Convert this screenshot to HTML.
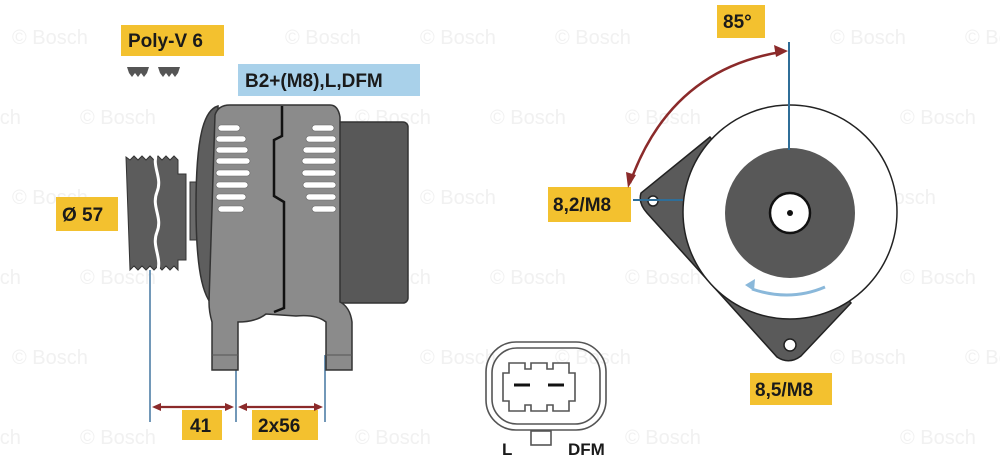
<!DOCTYPE html>
<html><head><meta charset="utf-8"><style>
html,body{margin:0;padding:0;background:#fff;}
svg{display:block;}
.wm{font-family:"Liberation Sans",sans-serif;font-size:20px;fill:#f1f1f1;}
.lb{font-family:"Liberation Sans",sans-serif;font-weight:bold;font-size:19px;fill:#1a1a1a;}
</style></head><body>
<svg width="1000" height="457" viewBox="0 0 1000 457" xmlns="http://www.w3.org/2000/svg">
<g class="wm">
<text x="12" y="44">© Bosch</text><text x="285" y="44">© Bosch</text><text x="420" y="44">© Bosch</text><text x="555" y="44">© Bosch</text><text x="830" y="44">© Bosch</text><text x="965" y="44">© Bosch</text>
<text x="-55" y="124">© Bosch</text><text x="80" y="124">© Bosch</text><text x="355" y="124">© Bosch</text><text x="490" y="124">© Bosch</text><text x="625" y="124">© Bosch</text><text x="900" y="124">© Bosch</text>
<text x="12" y="204">© Bosch</text><text x="420" y="204">© Bosch</text><text x="860" y="204">© Bosch</text>
<text x="-55" y="284">© Bosch</text><text x="80" y="284">© Bosch</text><text x="355" y="284">© Bosch</text><text x="490" y="284">© Bosch</text><text x="625" y="284">© Bosch</text><text x="900" y="284">© Bosch</text>
<text x="12" y="364">© Bosch</text><text x="420" y="364">© Bosch</text><text x="555" y="364">© Bosch</text><text x="830" y="364">© Bosch</text><text x="965" y="364">© Bosch</text>
<text x="-55" y="444">© Bosch</text><text x="80" y="444">© Bosch</text><text x="355" y="444">© Bosch</text><text x="625" y="444">© Bosch</text><text x="900" y="444">© Bosch</text>
</g>

<!-- labels -->
<rect x="121" y="25" width="103" height="31" fill="#f3c12f"/><text class="lb" x="128" y="47">Poly-V 6</text>
<rect x="238" y="64" width="182" height="32" fill="#a9d1ea"/><text class="lb" x="245" y="87">B2+(M8),L,DFM</text>
<rect x="56" y="197" width="62" height="34" fill="#f3c12f"/><text class="lb" x="62" y="221">Ø 57</text>
<rect x="182" y="410" width="40" height="30" fill="#f3c12f"/><text class="lb" x="190" y="432">41</text>
<rect x="252" y="410" width="66" height="30" fill="#f3c12f"/><text class="lb" x="258" y="432">2x56</text>
<rect x="717" y="5" width="48" height="33" fill="#f3c12f"/><text class="lb" x="723" y="28">85°</text>
<rect x="548" y="187" width="83" height="35" fill="#f3c12f"/><text class="lb" x="553" y="211">8,2/M8</text>
<rect x="750" y="373" width="82" height="32" fill="#f3c12f"/><text class="lb" x="755" y="396">8,5/M8</text>

<!-- belt symbol -->
<path d="M127 67h22l-2 6-3 4-3-4-3 4-3-4-3 4-3-4z" fill="#555"/>
<path d="M158 67h22l-2 6-3 4-3-4-3 4-3-4-3 4-3-4z" fill="#555"/>

<!-- dimension lines -->
<g stroke="#4f7fa6" stroke-width="1.6">
<line x1="150" y1="270" x2="150" y2="422"/><line x1="236" y1="355" x2="236" y2="422"/><line x1="325" y1="355" x2="325" y2="422"/>
</g>
<g stroke="#8b2a2a" stroke-width="2.2" fill="#8b2a2a">
<line x1="156" y1="407" x2="230" y2="407"/><line x1="242" y1="407" x2="319" y2="407"/>
<path d="M152 407l9-4v8z M234 407l-9-4v8z M238 407l9-4v8z M323 407l-9-4v8z" stroke="none"/>
</g>

<!-- pulley -->
<path d="M126 157l4 3 4-4 4 4 4-4 4 4 4-4 4 4 4-4 4 4 4-4 4 4 4-4 4 4v14h8v86h-8v10l-4-4-4 4-4-4-4 4-4-4-4 4-4-4-4 4-4-4-4 4-4-4-4 4z" fill="#5c5c5c" stroke="#333" stroke-width="1"/>
<path d="M157 152c-6 15 6 25 0 40s6 25 0 40s6 25 0 42" fill="none" stroke="#fff" stroke-width="3"/>
<rect x="190" y="182" width="8" height="58" fill="#6a6a6a" stroke="#333"/>
<!-- front bell -->
<path d="M218 106c-14 4-22 30-22 100s8 96 22 104z" fill="#5e5e5e" stroke="#333" stroke-width="1.5"/>
<!-- rear cover -->
<rect x="334" y="122" width="74" height="181" rx="5" fill="#585858" stroke="#333" stroke-width="1.5"/>
<!-- body -->
<path d="M215 115q3-10 15-10h100q8 0 10 12v185q10 5 12 20v48h-26v-48q-10-8-30-6l-30-2q-10 8-28 8v48h-26v-48q-3-10-3-20z" fill="#8b8b8b" stroke="#333" stroke-width="1.5"/>
<path d="M282 106v30l-8 4v56l10 6v106l-10 4" fill="none" stroke="#111" stroke-width="2.5"/>
<g stroke="#555" stroke-width="1"><line x1="212" y1="355" x2="238" y2="355"/><line x1="325" y1="355" x2="352" y2="355"/></g>
<!-- fins -->
<g fill="#fff" stroke="#666" stroke-width="0.6">
<rect x="218" y="125" width="22" height="6" rx="3"/><rect x="216" y="136" width="30" height="6" rx="3"/><rect x="216" y="147" width="32" height="6" rx="3"/><rect x="216" y="158" width="34" height="6" rx="3"/><rect x="216" y="170" width="34" height="6" rx="3"/><rect x="216" y="182" width="32" height="6" rx="3"/><rect x="216" y="194" width="30" height="6" rx="3"/><rect x="218" y="206" width="26" height="6" rx="3"/>
<rect x="312" y="125" width="22" height="6" rx="3"/><rect x="306" y="136" width="30" height="6" rx="3"/><rect x="303" y="147" width="33" height="6" rx="3"/><rect x="302" y="158" width="34" height="6" rx="3"/><rect x="302" y="170" width="34" height="6" rx="3"/><rect x="303" y="182" width="33" height="6" rx="3"/><rect x="306" y="194" width="30" height="6" rx="3"/><rect x="312" y="206" width="24" height="6" rx="3"/>
</g>

<!-- connector -->
<g fill="none" stroke="#555" stroke-width="1.6">
<rect x="486" y="342" width="120" height="88" rx="30"/>
<rect x="492" y="348" width="108" height="76" rx="25"/>
<path d="M503 373h6v-10h16v6h6v-6h16v6h6v-6h16v10h6v28h-6v10h-16v-6h-6v6h-16v-6h-6v6h-16v-10h-6z"/>
<rect x="531" y="431" width="20" height="14"/>
</g>
<g stroke="#111" stroke-width="3"><line x1="514" y1="385" x2="530" y2="385"/><line x1="548" y1="385" x2="564" y2="385"/></g>
<text class="lb" x="502" y="455" style="font-size:17px">L</text>
<text class="lb" x="568" y="455" style="font-size:17px">DFM</text>

<!-- right view -->
<path d="M710 137L641 193q-3 10 6 20L777 357q12 8 24-1L851 303z" fill="#5a5a5a" stroke="#222" stroke-width="1.5"/>
<circle cx="790" cy="212" r="107" fill="#fff" stroke="#222" stroke-width="1.5"/>
<circle cx="790" cy="213" r="65" fill="#585858"/>
<circle cx="790" cy="213" r="20" fill="#fff" stroke="#111" stroke-width="2.5"/>
<circle cx="790" cy="213" r="3" fill="#111"/>
<circle cx="653" cy="201" r="5" fill="#fff" stroke="#222" stroke-width="1.5"/>
<circle cx="790" cy="345" r="6" fill="#fff" stroke="#222" stroke-width="1.5"/>
<g stroke="#2f6e98" stroke-width="2"><line x1="789" y1="42" x2="789" y2="150"/><line x1="633" y1="200" x2="683" y2="200"/></g>
<path d="M781 52Q670 70 630 183" fill="none" stroke="#8b2a2a" stroke-width="2.5"/>
<path d="M788 51l-14-6 2 12z M628 188l-2-16 10 3z" fill="#8b2a2a"/>
<path d="M825 287Q790 302 752 289" fill="none" stroke="#8ab8da" stroke-width="3"/>
<path d="M745 285l10-6 -1 12z" fill="#8ab8da"/>
</svg>
</body></html>
